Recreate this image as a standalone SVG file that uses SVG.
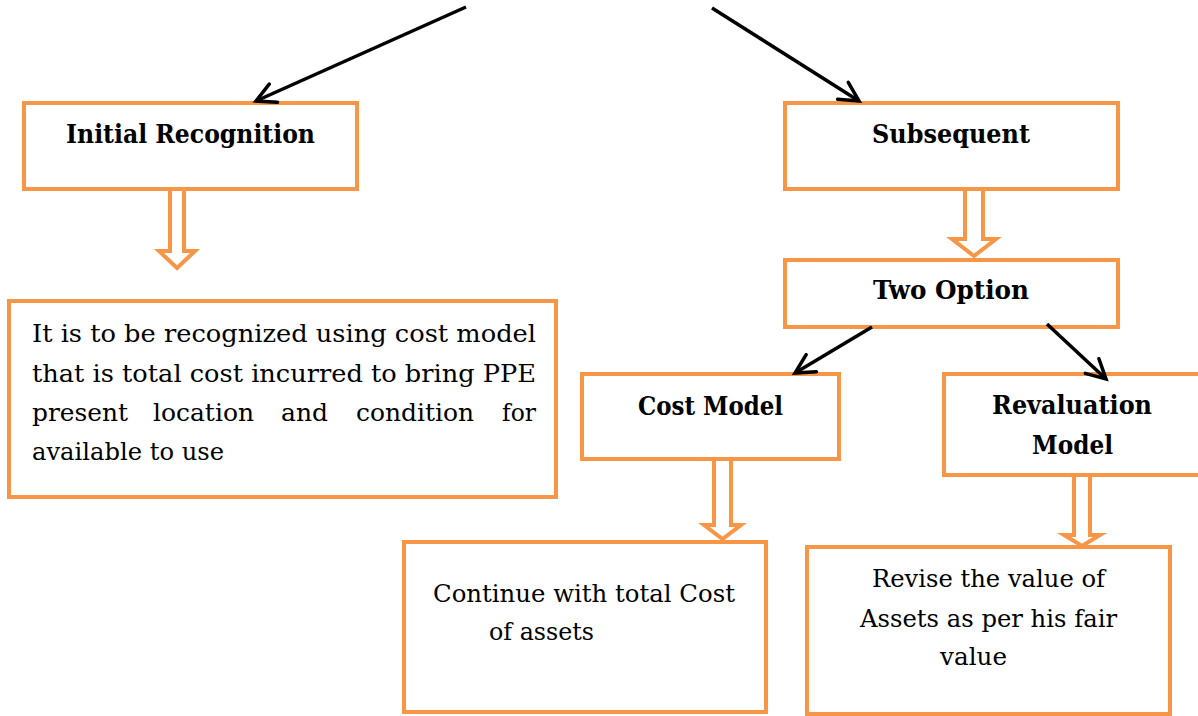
<svg xmlns="http://www.w3.org/2000/svg" width="1198" height="716" viewBox="0 0 1198 716">
<defs>
<marker id="ah" markerUnits="userSpaceOnUse" viewBox="-22 -12 26 24" refX="0" refY="0" markerWidth="26" markerHeight="24" orient="auto">
<path d="M-19,-10 L0,0 L-19,10" fill="none" stroke="#000" stroke-width="3.5" stroke-linecap="round"/>
</marker>
</defs>
<style>
.box{fill:#fff;stroke:#F79646;stroke-width:4}
.hol{fill:#fff;stroke:#F79646;stroke-width:4;stroke-linejoin:miter}
.con{stroke:#000;stroke-width:3.5;fill:none;marker-end:url(#ah)}
.b{font-family:"DejaVu Serif","Liberation Serif",serif;font-weight:bold;font-size:26px;fill:#000;text-anchor:middle}
.r{font-family:"DejaVu Serif","Liberation Serif",serif;font-size:25px;fill:#000}
</style>
<rect width="1198" height="716" fill="#fff"/>

<g id="initial">
<rect class="box" x="24" y="103" width="333" height="86"/>
<text class="b" x="190.5" y="143" textLength="249" lengthAdjust="spacingAndGlyphs">Initial Recognition</text>
</g>
<g id="subsequent">
<rect class="box" x="785" y="103" width="333" height="86"/>
<text class="b" x="951" y="143" textLength="158" lengthAdjust="spacingAndGlyphs">Subsequent</text>
</g>
<g id="twooption">
<rect class="box" x="785" y="260" width="333" height="67"/>
<text class="b" x="951" y="299" textLength="156" lengthAdjust="spacingAndGlyphs">Two Option</text>
</g>
<g id="costmodel">
<rect class="box" x="582" y="374" width="257" height="85"/>
<text class="b" x="710.5" y="415" textLength="145" lengthAdjust="spacingAndGlyphs">Cost Model</text>
</g>
<g id="revaluation">
<rect class="box" x="944" y="374" width="262" height="101"/>
<text class="b" x="1072" y="414" textLength="160" lengthAdjust="spacingAndGlyphs">Revaluation</text>
<text class="b" x="1072.5" y="454" textLength="81" lengthAdjust="spacingAndGlyphs">Model</text>
</g>
<g id="costtext">
<rect class="box" x="9" y="301" width="547" height="196"/>
<text class="r" x="32" y="342" textLength="504" lengthAdjust="spacingAndGlyphs">It is to be recognized using cost model</text>
<text class="r" x="32" y="382" textLength="504" lengthAdjust="spacingAndGlyphs">that is total cost incurred to bring PPE</text>
<text class="r" x="32" y="421" textLength="96" lengthAdjust="spacingAndGlyphs">present</text>
<text class="r" x="153" y="421" textLength="101" lengthAdjust="spacingAndGlyphs">location</text>
<text class="r" x="281" y="421" textLength="47" lengthAdjust="spacingAndGlyphs">and</text>
<text class="r" x="356" y="421" textLength="118" lengthAdjust="spacingAndGlyphs">condition</text>
<text class="r" x="502" y="421" textLength="34" lengthAdjust="spacingAndGlyphs">for</text>
<text class="r" x="32" y="460" textLength="192" lengthAdjust="spacingAndGlyphs">available to use</text>
</g>
<g id="continue">
<rect class="box" x="404" y="542" width="362" height="170"/>
<text class="r" x="433" y="602" textLength="302" lengthAdjust="spacingAndGlyphs">Continue with total Cost</text>
<text class="r" x="489" y="640" textLength="105" lengthAdjust="spacingAndGlyphs">of assets</text>
</g>
<g id="revise">
<rect class="box" x="807" y="547" width="363" height="167"/>
<text class="r" x="872" y="587" textLength="233" lengthAdjust="spacingAndGlyphs">Revise the value of</text>
<text class="r" x="860" y="627" textLength="257" lengthAdjust="spacingAndGlyphs">Assets as per his fair</text>
<text class="r" x="940" y="665" textLength="67" lengthAdjust="spacingAndGlyphs">value</text>
</g>

<g id="connectors">
<polygon class="hol" points="170,189 184,189 184,251 195,251 177,268 159,251 170,251"/>
<polygon class="hol" points="965,189 983,189 983,239 996,239 974,256 952,239 965,239"/>
<polygon class="hol" points="714,459 731,459 731,525 741,525 722.5,539 704,525 714,525"/>
<polygon class="hol" points="1074,475 1090,475 1090,535 1100,535 1082,546 1064,535 1074,535"/>
<line class="con" x1="466" y1="7" x2="256" y2="101"/>
<line class="con" x1="712" y1="8" x2="859" y2="101"/>
<line class="con" x1="872" y1="327" x2="795" y2="373"/>
<line class="con" x1="1047" y1="324" x2="1106" y2="379"/>
</g>
</svg>
